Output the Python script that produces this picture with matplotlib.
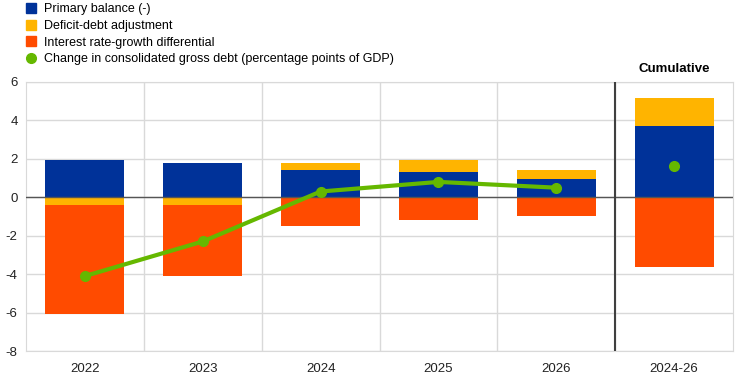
import numpy as np
import matplotlib.pyplot as plt
from matplotlib.lines import Line2D

plt.rcParams['font.family'] = ['Liberation Sans', 'DejaVu Sans']
plt.rcParams['axes.unicode_minus'] = False

categories = ['2022', '2023', '2024', '2025', '2026', '2024-26']
primary_balance = [1.95, 1.8, 1.42, 1.32, 0.95, 3.71]
deficit_debt = [-0.4, -0.4, 0.38, 0.64, 0.47, 1.46]
interest_growth = [-5.65, -3.7, -1.5, -1.18, -0.96, -3.61]
debt_change = [-4.1, -2.3, 0.3, 0.8, 0.5, 1.63]

c_blue = '#003299'
c_yellow = '#ffb400'
c_orange = '#ff4b00'
c_green = '#65b800'

fig = plt.figure(figsize=(7.44, 3.78), dpi=100)
ax = fig.add_axes([26 / 744, 1 - 351 / 378, (733 - 26) / 744, (351 - 82) / 378])

x = np.arange(len(categories))
w = 0.67
pb = np.array(primary_balance)
dd = np.array(deficit_debt)
ig = np.array(interest_growth)

# stack positives upward and negatives downward
pos_base = np.zeros(len(x))
neg_base = np.zeros(len(x))
for vals, col in [(pb, c_blue), (dd, c_yellow), (ig, c_orange)]:
    bottoms = np.where(vals >= 0, pos_base, neg_base)
    ax.bar(x, vals, w, bottom=bottoms, color=col, zorder=3)
    pos_base = pos_base + np.where(vals >= 0, vals, 0)
    neg_base = neg_base + np.where(vals < 0, vals, 0)

ax.plot(x[:5], debt_change[:5], color=c_green, lw=3, marker='o', ms=7, zorder=5)
ax.plot(x[5], debt_change[5], color=c_green, marker='o', ms=7, lw=0, zorder=5)

ax.axhline(0, color='#555555', lw=1, zorder=4)
ax.axvline(4.5, color='#404040', lw=1.5, zorder=4)

ax.set_xlim(-0.5, 5.5)
ax.set_ylim(-8, 6)
ax.set_yticks(range(-8, 7, 2))
ax.set_xticks(x)
ax.set_xticklabels(categories)
ax.set_xticks(np.arange(0.5, 5, 1), minor=True)
ax.grid(True, axis='y', color='#d9d9d9', lw=1, zorder=0)
ax.grid(True, axis='x', which='minor', color='#d9d9d9', lw=1, zorder=0)
ax.tick_params(which='both', length=0, labelsize=9.5, colors='#222222')
ax.tick_params(axis='y', pad=6)
ax.tick_params(axis='x', pad=9)
for s in ax.spines.values():
    s.set_color('#d9d9d9')

ax.text(5, 6.35, 'Cumulative', ha='center', va='bottom', fontsize=9.5, fontweight='bold')

handles = [
    Line2D([], [], marker='s', color=c_blue, lw=0, ms=7),
    Line2D([], [], marker='s', color=c_yellow, lw=0, ms=7),
    Line2D([], [], marker='s', color=c_orange, lw=0, ms=7),
    Line2D([], [], marker='o', color=c_green, lw=0, ms=7),
]
labels = ['Primary balance (-)', 'Deficit-debt adjustment',
          'Interest rate-growth differential',
          'Change in consolidated gross debt (percentage points of GDP)']
fig.legend(handles, labels, loc='upper left', bbox_to_anchor=(17 / 744, 1.008),
           frameon=False, fontsize=9, handletextpad=0.5, labelspacing=0.38,
           borderpad=0.0, handlelength=1.2)

fig.savefig('out.png', dpi=100)
